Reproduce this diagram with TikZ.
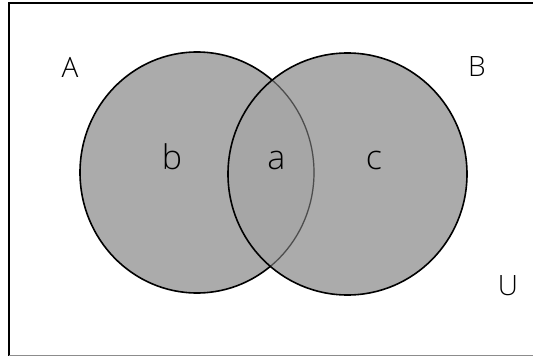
\documentclass[tikz,border=0pt]{standalone}
\usepackage{fontspec}
\setmainfont{Open Sans Light}
\definecolor{setfill}{HTML}{ABABAB}
\definecolor{setfilldark}{HTML}{A6A6A6}
\definecolor{framegray}{HTML}{8C8C8C}
\tikzset{
  setlabel/.style={anchor=base, inner sep=0pt, font=\fontsize{28}{28}\selectfont},
  partlabel/.style={anchor=base, inner sep=0pt, font=\fontsize{34}{34}\selectfont},
  setedge/.style={draw=black, line width=1.6pt},
}

\begin{document}
\begin{tikzpicture}[x=1pt, y=-1pt]
    \useasboundingbox (0,0) rectangle (533,356);
    % universe frame (cut off right)
    \draw[line width=2pt] (9,356) -- (9,3) -- (533,3);
    \draw[framegray, line width=1pt] (9,355.5) -- (533,355.5);
    % the two sets
    \fill[setfill] (197,172.5) ellipse [x radius=117, y radius=120.5];
    \draw[setedge] (197,172.5) ellipse [x radius=117, y radius=120.5];
    \fill[black!35, fill opacity=0.94] (347.5,174) ellipse [x radius=119.5, y radius=121];
    \begin{scope}
      \clip (347.5,174) ellipse [x radius=119.5, y radius=121];
      \draw[black!70, line width=1.2pt] (197,172.5) ellipse [x radius=117, y radius=120.5];
    \end{scope}
    \draw[setedge] (347.5,174) ellipse [x radius=119.5, y radius=121];
    % labels
    \node[setlabel] (lblA) at (70,77) {A};
    \node[setlabel] (lblB) at (477,76.7) {B};
    \node[setlabel] (lblU) at (508,295) {U};
    \node[partlabel] (onlyA) at (172,169.3) {b};
    \node[partlabel] (both) at (276.5,169.3) {a};
    \node[partlabel] (onlyB) at (374,169.3) {c};
  \end{tikzpicture}
\end{document}
